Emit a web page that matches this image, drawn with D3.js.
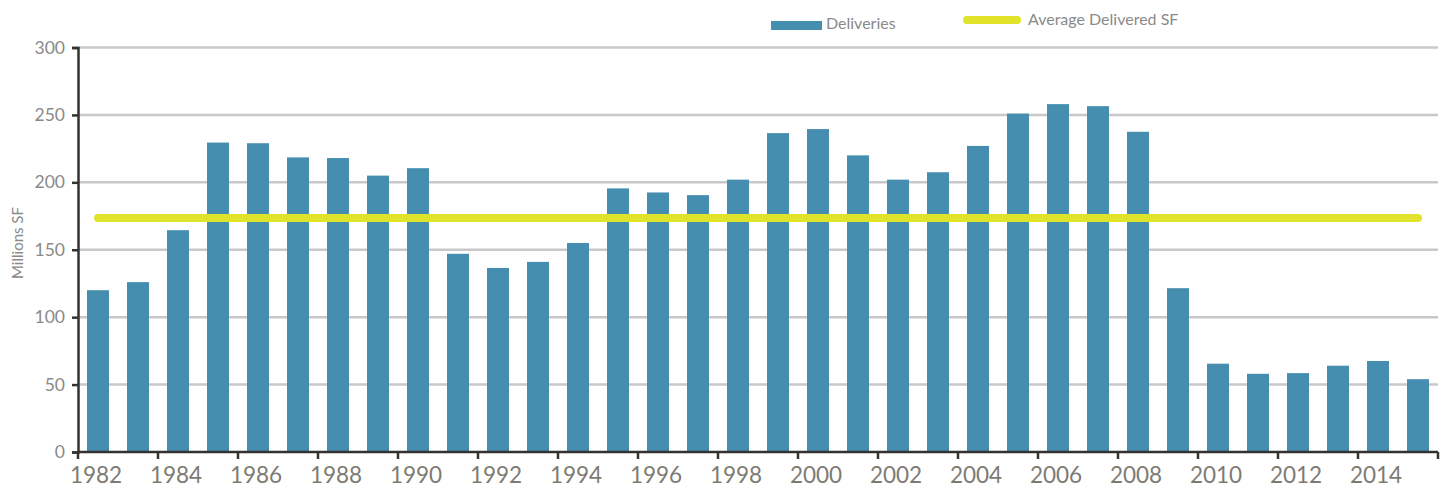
<!DOCTYPE html>
<html><head><meta charset="utf-8">
<script src="https://cdn.jsdelivr.net/npm/d3@7"></script>
<style>body{margin:0;background:#fff;} svg{display:block;font-family:Lato, "Open Sans", sans-serif;}</style>
</head><body>
<svg id="chart" width="1444" height="487"></svg>
<script>
const years = [1982,1983,1984,1985,1986,1987,1988,1989,1990,1991,1992,1993,1994,1995,1996,1997,1998,1999,2000,2001,2002,2003,2004,2005,2006,2007,2008,2009,2010,2011,2012,2013,2014,2015];
const deliveries = [120,126,164.5,229.5,229,218.5,218,205,210.5,147,136.5,141,155,195.5,192.5,190.5,202,236.5,239.5,220,202,207.5,227,251,258,256.5,237.5,121.5,65.5,58,58.5,64,67.5,54];
const averageDelivered = [173.5];
const yTicks = [0,50,100,150,200,250,300];
const seriesNames = ["Deliveries","Average Delivered SF"];

const svg = d3.select("#chart");
const m = {left:78, right:1438, top:47.5, bottom:452};
const x = d3.scaleBand().domain(years).range([m.left, m.right]).paddingInner(0.45).paddingOuter(0.225);
const xc = d3.scaleBand().domain(years).range([m.left, m.right]);
const y = d3.scaleLinear().domain([0,300]).range([m.bottom, m.top]);

// gridlines
svg.append("g").selectAll("line").data(yTicks.filter(d=>d>0)).join("line")
  .attr("x1", m.left).attr("x2", m.right).attr("y1", d=>y(d)).attr("y2", d=>y(d))
  .attr("stroke","#c8c8c8").attr("stroke-width",2.5);

// bars
svg.append("g").selectAll("rect").data(years).join("rect")
  .attr("x", d=>x(d)).attr("width", x.bandwidth())
  .attr("y", (d,i)=>y(deliveries[i])).attr("height", (d,i)=>y(0)-y(deliveries[i]))
  .attr("fill","#458eb0");

// average line
svg.append("line")
  .attr("x1", xc(years[0]) + xc.bandwidth()/2).attr("x2", xc(years[years.length-1]) + xc.bandwidth()/2)
  .attr("y1", y(averageDelivered[0])).attr("y2", y(averageDelivered[0]))
  .attr("stroke","#e1e32a").attr("stroke-width",8).attr("stroke-linecap","round");

// y axis
const ya = svg.append("g").attr("transform",`translate(${m.left},0)`)
  .call(d3.axisLeft(y).tickValues(yTicks).tickSize(6).tickPadding(7));
ya.select(".domain").attr("stroke","#333").attr("stroke-width",2.5);
ya.selectAll(".tick line").attr("stroke","#333").attr("stroke-width",2.5);
ya.selectAll(".tick text").attr("fill","#8a8a8a").attr("font-size",17.5).attr("font-family","Lato, sans-serif");

// x axis
const xa = svg.append("g").attr("transform",`translate(0,${m.bottom})`);
xa.append("line").attr("x1",m.left).attr("x2",m.right).attr("y1",0).attr("y2",0)
  .attr("stroke","#333").attr("stroke-width",2.5);
const tickYears = years.filter((d,i)=>i%2===0);
xa.selectAll("line.tk").data(tickYears.concat([null])).join("line").attr("class","tk")
  .attr("x1", d=> d===null ? m.right : xc(d)).attr("x2", d=> d===null ? m.right : xc(d))
  .attr("y1",0).attr("y2",7).attr("stroke","#333").attr("stroke-width",2.5);
xa.selectAll("text").data(tickYears).join("text")
  .attr("x", d=>xc(d)+xc.bandwidth()/2 - 2).attr("y",31)
  .attr("text-anchor","middle").attr("fill","#7d7a72").attr("font-size",22.5)
  .text(d=>d);

// y title
svg.append("text").attr("transform","translate(23,243) rotate(-90)")
  .attr("text-anchor","middle").attr("fill","#8a8a8a").attr("font-size",15).text("Millions SF");

// legend
svg.append("rect").attr("x",771).attr("y",21).attr("width",51).attr("height",9).attr("fill","#458eb0");
svg.append("text").attr("x",826).attr("y",29).attr("fill","#8a8a8a").attr("font-size",16).text(seriesNames[0]);
svg.append("line").attr("x1",967).attr("x2",1017).attr("y1",20).attr("y2",20)
  .attr("stroke","#e1e32a").attr("stroke-width",8).attr("stroke-linecap","round");
svg.append("text").attr("x",1028).attr("y",25).attr("fill","#8a8a8a").attr("font-size",16).text(seriesNames[1]);
</script>
</body></html>
